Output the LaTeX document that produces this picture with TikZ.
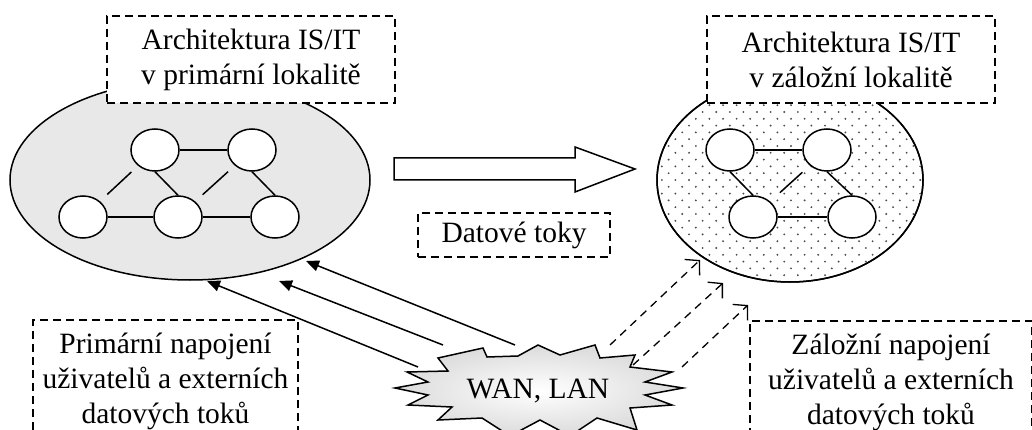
\documentclass[tikz,border=0pt]{standalone}
\usepackage{fontspec}
\setmainfont{Liberation Serif}
\usetikzlibrary{shapes.geometric,arrows.meta}

\begin{document}
\begin{tikzpicture}[x=1pt,y=-1pt,
  txt/.style={font=\fontsize{29.5}{35}\selectfont},
  lbl/.style={txt,draw,dash pattern=on 8pt off 5pt,line width=1.4pt,fill=white,
    align=center,inner sep=0pt},
  site/.style={draw,ellipse,line width=1.5pt,inner sep=0pt},
  srv/.style={draw,ellipse,line width=1.5pt,fill=white,
    minimum width=48pt,minimum height=42pt,inner sep=0pt},
  link/.style={line width=1.5pt},
  solidflow/.style={line width=1.5pt,-{Triangle[length=13pt,width=11pt]}},
  backupflow/.style={line width=1.3pt,dash pattern=on 8pt off 6pt,
    -{Straight Barb[length=10pt,width=22pt,line width=1.3pt]}},
]
\useasboundingbox (0,0) rectangle (1032,430);
\clip (0,0) rectangle (1032,430);

% primary site
\node[site,fill=black!9,minimum width=360pt,minimum height=200pt] (psite) at (190,180) {};
\node[srv] (p1) at (155,150) {};
\node[srv] (p2) at (252,150) {};
\node[srv] (p3) at (83,217) {};
\node[srv] (p4) at (178,217) {};
\node[srv] (p5) at (275,217) {};
\draw[link] (p1) -- (p2);
\draw[link] (p3) -- (p4);
\draw[link] (p4) -- (p5);
\draw[link] (p1.south) -- (p4.north);
\draw[link] (p2.south) -- (p5.north);
\draw[link,shorten <=10pt,shorten >=9pt] (p3) -- (p1);
\draw[link,shorten <=10pt,shorten >=9pt] (p4) -- (p2);

% backup site with dotted fill
\node[site,fill=white,minimum width=266pt,minimum height=204pt] (bsite) at (790,180) {};
\begin{scope}
  \clip (790,180) ellipse [x radius=132pt,y radius=101pt];
  \foreach \r in {0,...,30} {
    \pgfmathsetmacro{\yy}{78+6.8*\r}
    \pgfmathsetmacro{\off}{mod(\r,2)*6.8}
    \foreach \c in {0,...,21} {
      \fill[black!70] ({655+\off+13.6*\c},\yy) circle (1.05pt);
    }
  }
\end{scope}
\draw[line width=1.5pt] (bsite.center) ellipse [x radius=133pt,y radius=102pt];
\node[srv] (b1) at (730,150) {};
\node[srv] (b2) at (827,150) {};
\node[srv] (b3) at (753,217) {};
\node[srv] (b4) at (852,217) {};
\draw[link] (b1) -- (b2);
\draw[link] (b3) -- (b4);
\draw[link] (b1.south) -- (b3.north);
\draw[link] (b2.south) -- (b4.north);
\draw[link,shorten <=13pt,shorten >=10pt] (b3) -- (b2);

% site captions
\node[lbl,minimum width=288pt,minimum height=87pt] (pcap) at (251,59.5)
  {Architektura IS/IT\\v primární lokalitě};
\node[lbl,minimum width=288pt,minimum height=87pt] (bcap) at (851,59.5)
  {Architektura IS/IT\\v záložní lokalitě};

% replication arrow and its caption
\draw[line width=1.5pt,fill=white] (394,158) -- (575,158) -- (575,147) -- (635,169)
  -- (575,192) -- (575,180) -- (394,180) -- cycle;
\node[lbl,minimum width=192pt,minimum height=44pt] (flow) at (514,235) {Datové toky};

% user connections
\coordinate (a1s) at (418,367); \coordinate (a1e) at (207,281);
\coordinate (a2s) at (443,345); \coordinate (a2e) at (279,281);
\coordinate (a3s) at (515,345); \coordinate (a3e) at (306,261);
\draw[solidflow] (a1s) -- (a1e);
\draw[solidflow] (a2s) -- (a2e);
\draw[solidflow] (a3s) -- (a3e);
\coordinate (d1s) at (610,345); \coordinate (d1e) at (700,260);
\coordinate (d2s) at (633,365); \coordinate (d2e) at (723,283);
\coordinate (d3s) at (682,367); \coordinate (d3e) at (748,305);
\draw[backupflow] (d1s) -- (d1e);
\draw[backupflow] (d2s) -- (d2e);
\draw[backupflow] (d3s) -- (d3e);

% network burst
\coordinate (wc) at (538,388);
\begin{scope}[shift={(wc)}]
  \shadedraw[inner color=white,outer color=black!14,line width=1.5pt]
    (-143,0) -- (-110,-6) -- (-131,-16) -- (-90,-17) -- (-100,-30) -- (-55,-40)
    -- (-51,-31) -- (-20,-32) -- (0,-43) -- (22,-33) -- (57,-43) -- (62,-30)
    -- (97,-33) -- (92,-21) -- (134,-16) -- (107,-6) -- (145,0) -- (107,7)
    -- (134,17) -- (92,20) -- (99,42) -- (59,30) -- (32,48) -- (2,32)
    -- (-28,48) -- (-56,30) -- (-100,32) -- (-86,19) -- (-130,17) -- (-110,7)
    -- cycle;
\end{scope}
\node[txt,anchor=base,inner sep=0pt] (wan) at (538,398) {WAN, LAN};

% connection captions
\node[lbl,minimum width=265pt,minimum height=122pt] (pconn) at (165.5,381)
  {Primární napojení\\uživatelů a externích\\datových toků};
\node[lbl,minimum width=282pt,minimum height=122pt] (bconn) at (891,382)
  {Záložní napojení\\uživatelů a externích\\datových toků};
\end{tikzpicture}
\end{document}
